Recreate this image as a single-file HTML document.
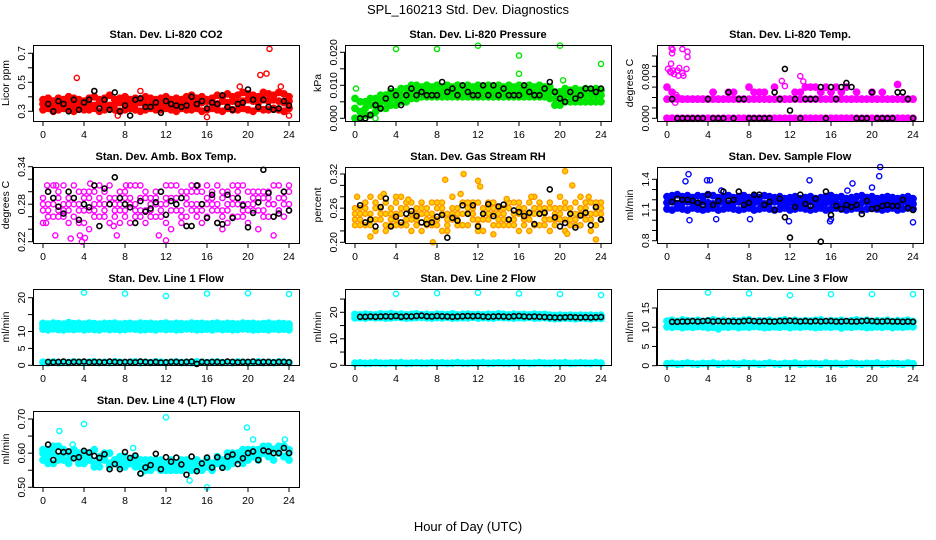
<!DOCTYPE html>
<html><head><meta charset="utf-8"><style>
html,body{margin:0;padding:0;background:#fff}
svg{display:block;font-family:"Liberation Sans",sans-serif}
</style></head><body>
<svg id="c" width="936" height="540" viewBox="0 0 936 540">
<text x="468" y="14" text-anchor="middle" font-size="13">SPL_160213  Std. Dev. Diagnostics</text>
<text x="468" y="531" text-anchor="middle" font-size="13">Hour of Day (UTC)</text>
</svg>
<script>
const co2Lo=[0.31,0.32,0.30,0.31,0.32,0.31,0.30,0.32,0.31,0.31,0.32,0.30,0.31,0.32,0.31,0.30,0.31,0.32,0.31,0.30,0.31,0.32,0.31,0.31,0.32,0.31,0.30,0.32,0.31,0.31,0.32,0.30,0.31,0.32,0.31,0.30,0.32,0.31,0.31,0.32,0.31,0.30,0.32,0.31,0.31,0.32,0.31,0.30,0.32];
const co2Mid=[0.35,0.36,0.34,0.35,0.36,0.35,0.34,0.36,0.35,0.35,0.34,0.36,0.35,0.34,0.35,0.36,0.35,0.34,0.35,0.36,0.35,0.36,0.34,0.35,0.36,0.35,0.34,0.36,0.35,0.36,0.35,0.36,0.37,0.36,0.35,0.37,0.36,0.37,0.36,0.37,0.38,0.37,0.36,0.38,0.37,0.38,0.37,0.36,0.37];
const co2Hi=[0.38,0.39,0.37,0.39,0.38,0.40,0.39,0.38,0.37,0.39,0.40,0.38,0.39,0.41,0.38,0.39,0.40,0.38,0.39,0.38,0.40,0.39,0.38,0.39,0.40,0.38,0.39,0.38,0.40,0.41,0.39,0.40,0.38,0.39,0.41,0.40,0.42,0.40,0.41,0.43,0.42,0.41,0.40,0.43,0.42,0.41,0.43,0.42,0.40];
const co2OutH=[3.3,7.3,16,21.2,21.8,22.1,24,19.2,23.2,5,9.5];
const co2OutV=[0.53,0.27,0.26,0.55,0.56,0.73,0.27,0.47,0.47,0.44,0.44];
const co2Blk=[0.35,0.30,0.37,0.35,0.30,0.38,0.31,0.36,0.38,0.44,0.32,0.38,0.31,0.43,0.30,0.34,0.27,0.38,0.39,0.33,0.33,0.36,0.29,0.37,0.35,0.34,0.33,0.34,0.40,0.35,0.37,0.32,0.36,0.35,0.41,0.33,0.31,0.35,0.36,0.45,0.38,0.33,0.38,0.33,0.31,0.32,0.37,0.34];

const prLo=[0.000,0.000,0.001,0.001,0.002,0.003,0.003,0.004,0.004,0.005,0.005,0.006,0.006,0.0065,0.0065,0.0065,0.0065,0.0065,0.0065,0.0065,0.0065,0.0065,0.0065,0.0065,0.0065,0.0065,0.0065,0.0065,0.0065,0.0065,0.0065,0.0065,0.0065,0.0065,0.0065,0.0065,0.0065,0.0065,0.006,0.004,0.004,0.005,0.005,0.005,0.005,0.005,0.005,0.005,0.005];
const prMid=[0.003,0.002,0.003,0.004,0.004,0.005,0.005,0.006,0.006,0.007,0.007,0.008,0.008,0.008,0.0085,0.008,0.0085,0.008,0.0085,0.008,0.0085,0.008,0.0085,0.008,0.0085,0.008,0.0085,0.008,0.0085,0.008,0.0085,0.008,0.0085,0.008,0.0085,0.008,0.0085,0.008,0.008,0.006,0.006,0.007,0.007,0.007,0.007,0.007,0.007,0.007,0.007];
const prHi=[0.006,0.005,0.005,0.006,0.006,0.007,0.007,0.008,0.008,0.009,0.009,0.010,0.010,0.0095,0.010,0.0095,0.010,0.0095,0.010,0.0095,0.010,0.0095,0.010,0.0095,0.010,0.0095,0.010,0.0095,0.010,0.0095,0.010,0.0095,0.010,0.0095,0.010,0.0095,0.010,0.0095,0.0095,0.008,0.008,0.009,0.0085,0.009,0.0085,0.009,0.0085,0.009,0.0085];
const prOutH=[0.1,4,8,12,16,16,20,20.3,24,2];
const prOutV=[0.009,0.021,0.021,0.022,0.019,0.0135,0.022,0.0115,0.0165,0.000];
const prBlk=[0.000,0.000,0.001,0.004,0.003,0.006,0.009,0.007,0.004,0.007,0.009,0.007,0.008,0.007,0.007,0.007,0.011,0.008,0.009,0.007,0.010,0.008,0.007,0.007,0.010,0.007,0.010,0.007,0.009,0.007,0.007,0.007,0.010,0.008,0.007,0.007,0.009,0.011,0.008,0.006,0.005,0.008,0.006,0.007,0.009,0.009,0.008,0.009];

const tpLo=[0,0,0,0,0,0,0,0,0,0,0,0,0,0,0,0,0,0,0,0,0,0,0,0,0,0,0,0,0,0,0,0,0,0,0,0,0,0,0,0,0,0,0,0,0,0,0,0,0];
const tpMid=[0.0037,0.0037,0.0037,0.0037,0.0037,0.0037,0.0037,0.0037,0.0037,0.0037,0.0037,0.0037,0.0037,0.0037,0.0037,0.0037,0.0037,0.0037,0.0037,0.0037,0.0037,0.0037,0.0037,0.0037,0.0037,0.0037,0.0037,0.0037,0.0037,0.0037,0.0037,0.0037,0.0037,0.0037,0.0037,0.0037,0.0037,0.0037,0.0037,0.0037,0.0037,0.0037,0.0037,0.0037,0.0037,0.0037,0.0037,0.0037,0.0037];
const tpHi=[0.006,0.005,0.004,0.0037,0.0037,0.0037,0.0037,0.0037,0.0037,0.005,0.0037,0.0037,0.005,0.005,0.0037,0.0037,0.006,0.005,0.005,0.005,0.0037,0.006,0.0037,0.0037,0.0037,0.005,0.005,0.006,0.006,0.006,0.005,0.006,0.005,0.006,0.005,0.006,0.0037,0.005,0.0037,0.0037,0.005,0.0037,0.005,0.0037,0.0037,0.0065,0.0037,0.0037,0.0037];
const tpOutH=[0.1,0.3,0.4,0.5,0.45,0.55,0.4,0.6,1.0,1.1,1.5,1.6,1.5,2.0,2.0,1.9,0.9,0.8,1.0,0.7,1.2,13,13.3,11.5,11.2];
const tpOutV=[0.0095,0.009,0.0088,0.0125,0.0135,0.0132,0.0105,0.0092,0.0092,0.0082,0.0087,0.0082,0.0133,0.0128,0.0118,0.0095,0.0045,0.003,0.0037,0.0085,0.0097,0.0081,0.0071,0.0062,0.0072];
const tpBlk=[0.0037,0,0,0,0,0,0,0.0037,0,0,0,0.005,0,0.0037,0.0037,0,0,0,0,0,0.005,0.0037,0.0095,0.0015,0.0037,0,0.0037,0.0037,0.0037,0.006,0,0.006,0.0037,0.006,0.0068,0.006,0,0,0,0.005,0,0,0,0,0.005,0.005,0.0037,0];

const abL1=[.27,.30,.26,.29,.28,.25,.31,.27,.29,.24,.30,.28,.26,.31,.29,.27,.30,.25,.28,.31,.27,.29,.26,.30,.28,.24,.31,.27,.29,.30,.26,.28,.31,.27,.25,.29,.30,.28,.26,.31,.27,.29,.24,.30,.28,.26,.31,.29,.27];
const abL2=[.28,.26,.29,.27,.31,.28,.26,.30,.25,.29,.27,.31,.28,.25,.27,.30,.26,.29,.31,.27,.25,.28,.30,.26,.29,.31,.27,.25,.28,.27,.30,.25,.28,.29,.31,.26,.27,.29,.30,.28,.25,.27,.30,.26,.29,.31,.27,.28,.30];
const abL3=[.25,.28,.31,.26,.27,.29,.28,.25,.30,.27,.26,.29,.30,.28,.26,.28,.27,.31,.26,.29,.30,.26,.28,.27,.25,.29,.28,.30,.26,.31,.28,.27,.26,.30,.28,.27,.25,.31,.28,.26,.30,.28,.27,.29,.26,.28,.29,.26,.31];
const abL4=[.29,.27,.28,.30,.26,.27,.29,.28,.27,.30,.28,.26,.27,.29,.28,.25,.29,.28,.27,.26,.29,.27,.29,.28,.31,.27,.29,.26,.30,.28,.27,.30,.29,.28,.27,.30,.28,.26,.29,.27,.28,.30,.29,.27,.30,.28,.27,.30,.28];
const abOutH=[0.3,1.2,2.7,3.6,3.8,4.1,6.9,7.2,11.3,12,17.5,19,22.5,4.6,0.4,1.3,8.1,15.1];
const abOutV=[.25,.23,.225,.23,.22,.226,.245,.23,.23,.222,.24,.31,.23,.313,.31,.31,.31,.31];
const abBlk=[.30,.29,.276,.265,.30,.29,.255,.28,.275,.31,.245,.305,.28,.323,.29,.28,.275,.25,.285,.268,.273,.283,.30,.263,.285,.28,.29,.245,.245,.31,.28,.258,.295,.25,.248,.295,.258,.29,.278,.243,.266,.283,.335,.298,.26,.265,.30,.27];

const rhL1=[.24,.26,.23,.25,.27,.24,.22,.26,.25,.23,.27,.24,.26,.22,.25,.27,.23,.26,.24,.28,.25,.23,.26,.24,.27,.22,.25,.26,.23,.24,.27,.25,.22,.26,.24,.28,.23,.25,.27,.24,.26,.22,.25,.27,.23,.26,.24,.25,.27];
const rhL2=[.25,.23,.26,.28,.24,.26,.25,.23,.27,.26,.24,.22,.25,.27,.24,.23,.26,.25,.22,.24,.26,.27,.23,.25,.22,.26,.24,.27,.25,.26,.23,.24,.26,.25,.27,.23,.26,.24,.22,.26,.25,.27,.23,.24,.26,.25,.27,.23,.26];
const rhL3=[.23,.25,.27,.24,.22,.25,.27,.24,.23,.25,.26,.27,.23,.25,.26,.24,.27,.22,.25,.26,.23,.25,.27,.26,.24,.25,.27,.23,.26,.25,.24,.27,.25,.23,.22,.25,.27,.26,.24,.25,.28,.24,.26,.23,.25,.27,.22,.26,.24];
const rhL4=[.26,.24,.25,.23,.26,.28,.23,.25,.24,.28,.23,.25,.24,.26,.23,.25,.24,.27,.23,.25,.24,.23,.25,.27,.23,.24,.26,.25,.24,.23,.26,.23,.27,.24,.25,.26,.25,.23,.26,.23,.24,.26,.24,.25,.28,.24,.25,.27,.25];
const rhOutH=[0.2,1.5,2.8,4,5.2,7.6,8.8,10.3,10.6,12,12.2,13.5,20.5,21.2,22.8,23.5,20.7,17.2,14.8];
const rhOutV=[.28,.21,.285,.28,.275,.20,.31,.285,.32,.308,.298,.214,.325,.30,.28,.205,.215,.28,.276];
const rhBlk=[.265,.235,.240,.228,.262,.277,.228,.245,.235,.250,.255,.246,.235,.232,.235,.245,.248,.208,.243,.238,.265,.250,.265,.228,.250,.267,.246,.263,.266,.240,.256,.253,.246,.252,.232,.250,.252,.293,.244,.228,.234,.250,.226,.247,.252,.230,.262,.240];

const sfLo=[1.11,1.10,1.12,1.11,1.10,1.12,1.11,1.10,1.11,1.12,1.10,1.11,1.12,1.11,1.10,1.11,1.12,1.10,1.11,1.12,1.11,1.10,1.11,1.12,1.10,1.11,1.12,1.11,1.10,1.11,1.12,1.10,1.11,1.12,1.11,1.10,1.11,1.12,1.10,1.11,1.12,1.11,1.10,1.11,1.12,1.10,1.11,1.12,1.11];
const sfMid=[1.17,1.18,1.16,1.17,1.18,1.17,1.16,1.18,1.17,1.16,1.17,1.18,1.16,1.17,1.18,1.17,1.16,1.17,1.18,1.16,1.17,1.18,1.17,1.16,1.17,1.18,1.16,1.17,1.18,1.17,1.16,1.17,1.18,1.17,1.16,1.17,1.18,1.16,1.17,1.18,1.17,1.16,1.17,1.18,1.16,1.17,1.18,1.17,1.16];
const sfHi=[1.23,1.24,1.25,1.23,1.24,1.22,1.24,1.23,1.25,1.24,1.22,1.23,1.24,1.22,1.23,1.24,1.22,1.23,1.22,1.24,1.23,1.22,1.23,1.21,1.22,1.23,1.21,1.22,1.23,1.21,1.22,1.23,1.24,1.22,1.23,1.21,1.22,1.23,1.24,1.22,1.23,1.21,1.22,1.23,1.22,1.21,1.22,1.23,1.21];
const sfOutH=[2.1,1.8,3.9,4.2,2.2,4.8,8.1,13.9,15.9,18.1,20,20.8,20.7,24,11.9,16.0,5.3,17.6];
const sfOutV=[1.45,1.38,1.39,1.39,1.00,1.01,1.01,1.39,0.99,1.36,1.32,1.52,1.43,0.98,0.99,1.01,1.29,1.29];
const sfBlk=[1.18,1.21,1.20,1.20,1.19,1.17,1.15,1.25,1.15,1.19,1.28,1.19,1.20,1.28,1.15,1.17,1.25,1.25,1.15,1.18,1.10,1.21,1.03,0.83,1.13,1.25,1.16,1.14,1.21,0.79,1.28,1.05,1.14,1.11,1.15,1.13,1.15,1.06,1.19,1.11,1.12,1.14,1.15,1.14,1.14,1.20,1.12,1.10];

const l1Lo=[10.7,10.5,10.8,10.6,10.5,10.7,10.6,10.8,10.5,10.7,10.6,10.5,10.8,10.6,10.7,10.5,10.6,10.8,10.7,10.5,10.6,10.7,10.5,10.8,10.6,10.7,10.5,10.6,10.8,10.7,10.5,10.6,10.7,10.5,10.8,10.6,10.7,10.5,10.6,10.8,10.7,10.5,10.6,10.7,10.5,10.8,10.6,10.7,10.5];
const l1Mid=[11.6,11.4,11.5,11.7,11.5,11.4,11.6,11.5,11.7,11.4,11.5,11.6,11.5,11.4,11.7,11.5,11.6,11.4,11.5,11.7,11.5,11.4,11.6,11.5,11.7,11.4,11.5,11.6,11.5,11.4,11.7,11.5,11.6,11.4,11.5,11.7,11.5,11.4,11.6,11.5,11.7,11.4,11.5,11.6,11.5,11.4,11.7,11.5,11.6];
const l1Hi=[12.4,12.2,12.5,12.3,12.2,12.6,12.3,12.4,12.2,12.5,12.3,12.2,12.4,12.3,12.5,12.2,12.3,12.4,12.2,12.5,12.3,12.4,12.2,12.3,12.5,12.2,12.4,12.3,12.2,12.5,12.3,12.4,12.2,12.3,12.5,12.2,12.4,12.3,12.2,12.5,12.3,12.4,12.2,12.3,12.5,12.2,12.4,12.3,12.2];
const l1Base=[0.9,0.8,1.0,0.8,0.9,0.8,1.0,0.9,0.8,0.9,1.0,0.8,0.9,0.8,1.0,0.9,0.8,0.9,1.0,0.8,0.9,0.8,1.0,0.9,0.8,0.9,1.0,0.8,0.9,0.8,1.0,0.9,0.8,0.9,1.0,0.8,0.9,0.8,1.0,0.9,0.8,0.9,1.0,0.8,0.9,0.8,1.0,0.9,0.8];
const l1OutH=[4,8,12,16,20,24];
const l1OutV=[21.5,21.2,20.5,21.2,21.3,21.1];
const l1Blk=[1.0,0.9,1.0,1.1,0.9,1.0,1.0,1.1,0.9,1.0,1.0,0.9,1.1,1.0,0.9,1.0,1.0,0.9,1.1,1.0,0.9,1.0,0.8,0.9,1.0,1.0,0.9,1.0,1.1,0.4,1.0,0.9,1.0,1.0,0.9,1.1,1.0,0.9,1.0,1.0,1.1,0.9,1.0,1.0,0.9,1.0,1.0,0.9];

const l2Lo=[17.9,18.0,17.8,18.1,17.9,18.0,17.8,17.9,18.1,18.0,17.8,17.9,18.0,18.1,17.9,17.8,18.0,17.9,18.1,17.8,17.9,18.0,17.9,18.1,17.8,18.0,17.9,17.8,18.1,18.0,17.9,17.8,18.0,17.9,18.1,17.8,17.9,18.0,17.7,17.6,17.7,17.8,17.7,17.6,17.8,17.7,17.6,17.8,17.7];
const l2Hi=[19.2,19.0,19.3,19.1,19.0,19.4,19.2,19.5,19.1,19.3,19.0,19.2,19.4,19.1,19.2,19.0,19.3,19.2,19.1,19.4,19.0,19.2,19.3,19.1,19.2,19.0,19.3,19.1,19.4,19.2,19.0,19.3,19.1,19.2,19.0,19.3,19.1,19.2,18.9,18.8,18.9,18.8,18.9,18.8,18.9,18.8,18.9,18.8,18.9];
const l2Base=[0.8,0.9,0.7,0.8,1.0,0.8,0.7,0.9,0.8,1.0,0.7,0.8,0.9,0.8,0.7,1.0,0.8,0.9,0.7,0.8,1.0,0.8,0.7,0.9,0.8,1.0,0.7,0.8,0.9,0.8,0.7,1.0,0.8,0.9,0.7,0.8,1.0,0.8,0.7,0.9,0.8,1.0,0.7,0.8,0.9,0.8,0.7,1.0,0.8];
const l2OutH=[4,8,12,16,20,24];
const l2OutV=[27,27.2,27.4,27.1,26.9,26.5];
const l2Blk=[18.3,18.3,18.4,18.3,18.4,18.5,18.4,18.6,18.3,18.5,18.4,18.6,18.7,18.5,18.4,18.6,18.5,18.4,18.3,18.4,18.5,18.6,18.5,18.6,18.4,18.3,18.4,18.5,18.4,18.3,18.5,18.6,18.4,18.3,18.4,18.3,18.2,18.1,18.0,18.0,18.1,18.2,18.1,18.0,18.1,18.0,18.1,18.2];

const l3Lo=[10.1,10.0,10.2,9.9,10.1,10.0,10.2,10.1,9.9,10.0,9.6,10.1,10.0,10.2,9.9,10.1,10.0,10.2,10.1,9.9,10.0,10.1,10.0,10.2,9.9,10.1,10.0,10.2,10.1,9.9,10.0,10.1,10.0,10.2,9.8,10.1,10.0,10.2,10.1,9.9,10.0,10.1,10.0,10.2,9.9,10.1,10.0,10.2,10.1];
const l3Hi=[11.6,11.8,11.5,11.9,11.7,11.6,11.8,11.5,11.7,11.9,11.6,11.8,11.5,11.7,11.6,11.8,11.9,11.5,11.7,11.6,11.8,11.5,11.7,11.9,11.6,11.8,11.5,11.7,11.6,11.8,11.9,11.5,11.7,11.6,11.8,11.5,11.7,11.9,11.6,11.8,11.5,11.7,11.6,11.8,11.5,11.7,11.6,11.8,11.5];
const l3Base=[0.5,0.6,0.4,0.5,0.7,0.5,0.4,0.6,0.5,0.7,0.4,0.5,0.6,0.5,0.4,0.7,0.5,0.6,0.4,0.5,0.7,0.5,0.4,0.6,0.5,0.7,0.4,0.5,0.6,0.5,0.4,0.7,0.5,0.6,0.4,0.5,0.7,0.5,0.4,0.6,0.5,0.7,0.4,0.5,0.6,0.5,0.4,0.7,0.5];
const l3OutH=[4,8,12,16,20,24];
const l3OutV=[19.0,18.8,18.3,18.6,18.6,18.6];
const l3Blk=[11.4,11.4,11.5,11.5,11.6,11.5,11.6,11.7,11.5,11.6,11.5,11.6,11.5,11.5,11.6,11.7,11.6,11.5,11.6,11.5,11.5,11.6,11.6,11.7,11.6,11.5,11.6,11.5,11.6,11.5,11.6,11.6,11.5,11.5,11.6,11.5,11.5,11.6,11.7,11.6,11.5,11.5,11.6,11.5,11.5,11.4,11.5,11.4];

const l4L1=[.61,.59,.60,.62,.58,.60,.61,.59,.60,.58,.61,.59,.58,.60,.57,.59,.58,.57,.59,.56,.58,.57,.56,.58,.57,.55,.57,.56,.58,.55,.57,.56,.58,.57,.59,.57,.58,.60,.58,.59,.61,.60,.61,.62,.60,.61,.60,.62,.61];
const l4L2=[.58,.61,.57,.59,.60,.57,.59,.60,.57,.59,.57,.56,.59,.57,.58,.56,.59,.57,.56,.58,.55,.58,.56,.57,.55,.58,.56,.55,.57,.56,.58,.55,.57,.56,.58,.56,.60,.57,.59,.61,.58,.59,.58,.60,.62,.58,.60,.59,.58];
const l4L3=[.60,.57,.62,.58,.61,.58,.60,.57,.59,.60,.56,.58,.60,.56,.58,.57,.56,.58,.57,.58,.56,.55,.58,.55,.56,.57,.55,.58,.56,.57,.55,.57,.56,.55,.57,.58,.56,.59,.60,.57,.60,.61,.59,.60,.59,.61,.62,.59,.60];
const l4OutH=[1.6,4,12,19.9,20.5,23.6,16,14.3,9.6,2.9,8.8];
const l4OutV=[.665,.685,.705,.675,.64,.64,.50,.52,.54,.625,.615];
const l4Blk=[.625,.58,.605,.603,.605,.585,.588,.607,.602,.592,.586,.597,.553,.568,.553,.603,.586,.593,.54,.558,.565,.598,.553,.588,.575,.587,.567,.537,.59,.547,.57,.587,.558,.588,.557,.59,.596,.568,.585,.6,.605,.58,.608,.605,.6,.6,.615,.6];

const xTickLabels=["0","4","8","12","16","20","24"];

const panels=[
 {t:"Stan. Dev. Li-820 CO2",yl:"Licor ppm",c:0,r:0,v:[0.3,111.3,0.7,53.3],ticks:[.3,.4,.5,.6,.7],labs:["0.3","","0.5","","0.7"],col:"#ff0000",dense:1,layers:[co2Lo,co2Mid,co2Hi],oh:co2OutH,ov:co2OutV,blk:co2Blk},
 {t:"Stan. Dev. Li-820 Pressure",yl:"kPa",c:1,r:0,v:[0,118.3,0.02,52.3],ticks:[0,.005,.01,.015,.02],labs:["0.000","","0.010","","0.020"],col:"#00e600",dense:1,layers:[prLo,prMid,prHi],oh:prOutH,ov:prOutV,blk:prBlk},
 {t:"Stan. Dev. Li-820 Temp.",yl:"degrees C",c:2,r:0,v:[0,118.3,0.008,76.7],ticks:[0,.002,.004,.006,.008,.010,.012],labs:["0.000","","","","0.008","",""],col:"#ff00ff",dense:1,layers:[tpLo,tpMid,tpHi],oh:tpOutH,ov:tpOutV,blk:tpBlk},
 {t:"Stan. Dev. Amb. Box Temp.",yl:"degrees C",c:0,r:1,v:[.22,241.7,.34,166.7],ticks:[.22,.24,.26,.28,.30,.32,.34],labs:["0.22","","","0.28","","","0.34"],col:"#ff00ff",dense:0,layers:[abL1,abL2,abL3,abL4],oh:abOutH,ov:abOutV,blk:abBlk},
 {t:"Stan. Dev. Gas Stream RH",yl:"percent",c:1,r:1,v:[.20,242.3,.32,174],ticks:[.20,.22,.24,.26,.28,.30,.32],labs:["0.20","","","0.26","","","0.32"],col:"#ff9900",fill:"#ffd000",dense:0,layers:[rhL1,rhL2,rhL3,rhL4],oh:rhOutH,ov:rhOutV,blk:rhBlk},
 {t:"Stan. Dev. Sample Flow",yl:"ml/min",c:2,r:1,v:[.8,240.7,1.4,179.3],ticks:[.8,.9,1.0,1.1,1.2,1.3,1.4],labs:["0.8","","","1.1","","","1.4"],col:"#0000ff",dense:1,layers:[sfLo,sfMid,sfHi],oh:sfOutH,ov:sfOutV,blk:sfBlk},
 {t:"Stan. Dev. Line 1 Flow",yl:"ml/min",c:0,r:2,v:[0,365.3,20,297.7],ticks:[0,5,10,15,20],labs:["0","5","10","","20"],col:"#00ffff",dense:1,layers:[l1Lo,l1Mid,l1Hi,l1Base],oh:l1OutH,ov:l1OutV,blk:l1Blk},
 {t:"Stan. Dev. Line 2 Flow",yl:"ml/min",c:1,r:2,v:[0,365.3,20,312.3],ticks:[0,5,10,15,20,25],labs:["0","","10","","20",""],col:"#00ffff",dense:1,layers:[l2Lo,l2Hi,l2Base],oh:l2OutH,ov:l2OutV,blk:l2Blk},
 {t:"Stan. Dev. Line 3 Flow",yl:"ml/min",c:2,r:2,v:[0,365.7,15,308],ticks:[0,5,10,15],labs:["0","5","10","15"],col:"#00ffff",dense:1,layers:[l3Lo,l3Hi,l3Base],oh:l3OutH,ov:l3OutV,blk:l3Blk},
 {t:"Stan. Dev. Line 4 (LT) Flow",yl:"ml/min",c:0,r:3,v:[.5,487.3,.7,419],ticks:[.5,.55,.6,.65,.7],labs:["0.50","","0.60","","0.70"],col:"#00ffff",dense:1,layers:[l4L1,l4L2,l4L3],oh:l4OutH,ov:l4OutV,blk:l4Blk}
];

const svg=document.getElementById('c');
const NS="http://www.w3.org/2000/svg";
function mk(tag,attrs,parent){const e=document.createElementNS(NS,tag);for(const k in attrs)e.setAttribute(k,attrs[k]);parent.appendChild(e);return e;}

panels.forEach((p,pi)=>{
  const bx=33+312*p.c, by=45+122*p.r, bw=266, bh=76;
  const g=mk('g',{},svg);
  
  
  const xs=h=>bx+10+h*10.25;
  const ys=v=>p.v[1]+(v-p.v[0])*(p.v[3]-p.v[1])/(p.v[2]-p.v[0]);
  const tt=mk('text',{x:bx+bw/2,y:by-7,'text-anchor':'middle','font-size':'11','font-weight':'bold'},g);
  tt.textContent=p.t;
  
  
  const yl=mk('text',{x:0,y:0,'text-anchor':'middle','font-size':'10.5',transform:`translate(${bx-24},${by+bh/2}) rotate(-90)`},g);
  yl.textContent=p.yl;
  
  
  const layerFill=p.fill||(p.dense?p.col:'none');
  const mg=mk('g',{fill:layerFill,stroke:p.col,'stroke-width':p.dense?'1.8':'1.4'},g);
  
  
  p.layers.forEach(arr=>{arr.forEach((v,i)=>{const h=i*24/(arr.length-1);
    const c=mk('circle',{cx:xs(h).toFixed(1),cy:ys(v).toFixed(1),r:p.dense?3:2.6},mg);
    
    });});
  const og=mk('g',{fill:p.fill||'none',stroke:p.col,'stroke-width':'1.4'},g);
  
  
  p.oh.forEach((h,i)=>{const c=mk('circle',{cx:xs(h).toFixed(1),cy:ys(p.ov[i]).toFixed(1),r:2.6},og);
    
    });
  const bg=mk('g',{fill:'none',stroke:'#000','stroke-width':'1.6'},g);
  
  
  p.blk.forEach((v,i)=>{const h=0.5+i*0.5;
    const c=mk('circle',{cx:xs(h).toFixed(1),cy:ys(v).toFixed(1),r:2.5},bg);
    
    });
  const b=mk('rect',{x:bx+.5,y:by+.5,width:bw,height:bh,fill:'none',stroke:'#000','stroke-width':'1'},g);
  
  
  const xa=mk('g',{stroke:'#000','stroke-width':'1'},g);
  
  
  mk('line',{x1:xs(0),x2:xs(24),y1:by+bh+.5,y2:by+bh+.5},xa);
  xTickLabels.forEach((l,i)=>{const x=xs(i*4);
    mk('line',{x1:x,x2:x,y1:by+bh,y2:by+bh+5},xa);
    const t=mk('text',{x:x,y:by+bh+17,'text-anchor':'middle','font-size':'10.5',stroke:'none',fill:'#000'},xa);
    t.textContent=l;
    
    });
  const ya=mk('g',{stroke:'#000','stroke-width':'1'},g);
  
  
  const y0=ys(p.ticks[0]),y1=ys(p.ticks[p.ticks.length-1]);
  mk('line',{x1:bx-.5,x2:bx-.5,y1:y0,y2:y1},ya);
  p.ticks.forEach((v,i)=>{const y=ys(v);
    mk('line',{x1:bx-5,x2:bx,y1:y,y2:y},ya);
    if(p.labs[i]){const t=mk('text',{x:0,y:0,'text-anchor':'middle','font-size':'10.5',stroke:'none',fill:'#000',transform:`translate(${bx-8},${y}) rotate(-90)`},ya);
      t.textContent=p.labs[i];
      
      }});
});
</script>
</body></html>
